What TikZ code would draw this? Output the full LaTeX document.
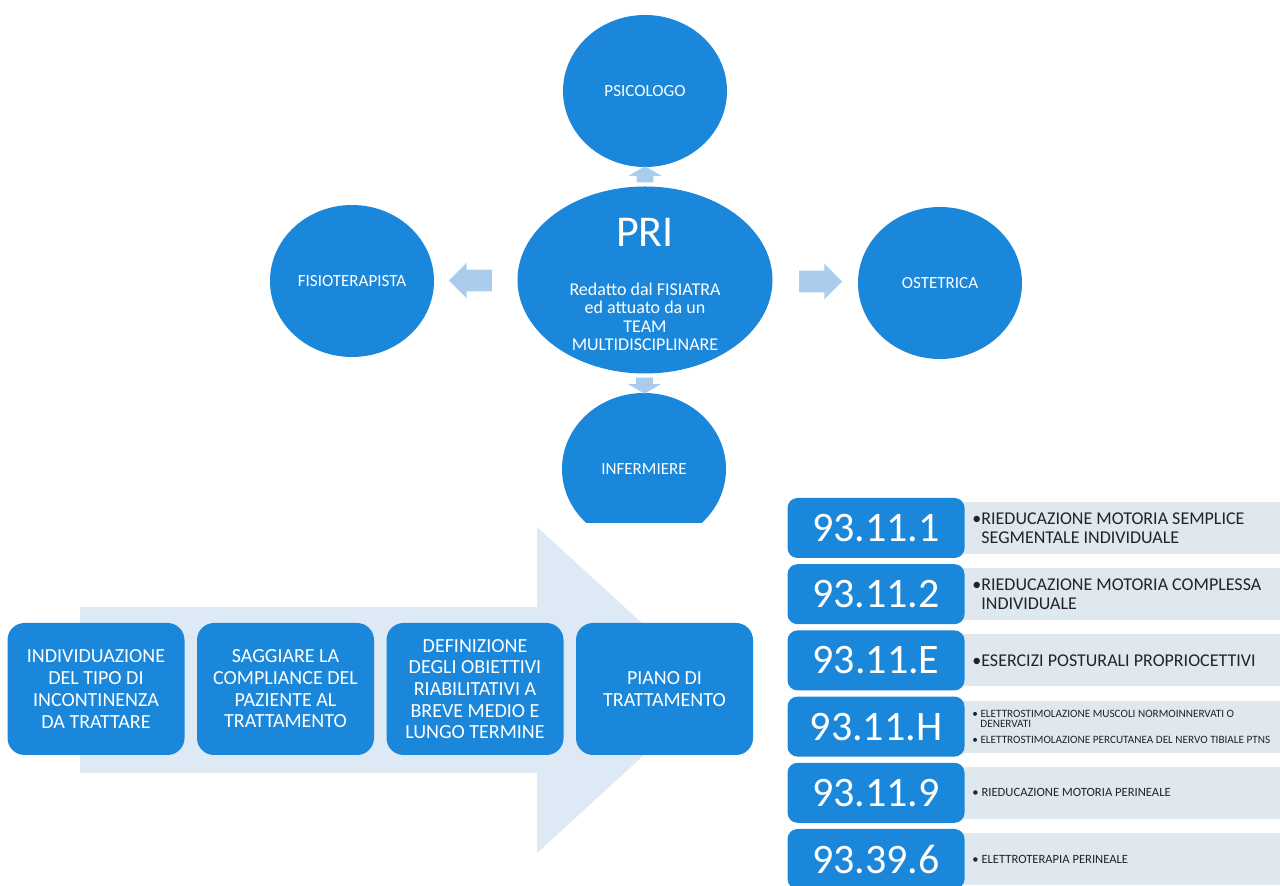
\documentclass[tikz,border=0pt]{standalone}
\usepackage{fontspec}
\setmainfont{Carlito}
\usetikzlibrary{shapes.geometric}
\usetikzlibrary{shapes.arrows}
\usetikzlibrary{calc}
\definecolor{mblue}{RGB}{26,135,219}
\definecolor{mpale}{RGB}{221,234,246}
\definecolor{marrow}{RGB}{170,205,238}
\definecolor{mrow}{RGB}{223,231,239}
\definecolor{mtext}{RGB}{35,35,40}
\newcommand{\rowbig}{\fontsize{9}{9.5}\selectfont}
\newcommand{\rowsmall}{\fontsize{6.3}{6.5}\selectfont}
\newcommand{\rowtiny}{\fontsize{5.6}{5}\selectfont}
\tikzset{circ/.style = {ellipse, fill=mblue, text=white, inner sep=0pt,
                        minimum width=82pt, minimum height=76pt,
                        font=\fontsize{8.5}{10}\selectfont},
         hblock/.style = {single arrow, fill=marrow, inner xsep=0pt, inner ysep=5.25pt,
                          minimum height=21.5pt, minimum width=17.5pt,
                          single arrow head extend=3.5pt},
         vblock/.style = {single arrow, fill=marrow, inner xsep=0pt, inner ysep=4pt,
                          minimum height=8pt, minimum width=16pt,
                          single arrow head extend=4pt, single arrow tip angle=120},
         fase/.style = {rectangle, rounded corners=8.5pt, fill=mblue, text=white,
                        minimum width=88.5pt, minimum height=66pt,
                        align=center, inner sep=0pt,
                        font=\fontsize{10}{10.85}\selectfont},
         codebox/.style = {rectangle, rounded corners=5pt, fill=mblue, text=white,
                           minimum width=88.5pt, minimum height=30pt, inner sep=0pt,
                           font=\fontsize{21}{21}\selectfont},
         descnode/.style = {anchor=west, align=left, text=mtext, inner sep=0pt}}

\begin{document}
\begin{tikzpicture}[x=0.5pt, y=-0.5pt]
    \clip (0, 0) rectangle (1280, 886);
    \fill [white] (0, 0) rectangle (1280, 886);

    % team around the PRI
    \node [ellipse, fill=mblue, inner sep=0pt, minimum width=127.5pt, minimum height=93.5pt] (pri) at (645, 280) {};
    \node [text=white, inner sep=0pt, font=\fontsize{22}{22}\selectfont] (prititle) at (645, 232) {PRI};
    \node [text=white, inner sep=0pt, align=center, font=\fontsize{9}{9.2}\selectfont] (pridesc) at (645, 317)
      {Redatto dal FISIATRA\\ed attuato da un\\TEAM\\MULTIDISCIPLINARE};
    \node [circ] (psico) at (645, 91) {PSICOLOGO};
    \node [circ] (fisio) at (352, 281) {FISIOTERAPISTA};
    \node [circ] (ostet) at (940, 283) {OSTETRICA};
    \begin{scope}
      \clip (0, 0) rectangle (1280, 523);
      \node [circ] (inferm) at (644, 469) {INFERMIERE};
    \end{scope}

    \node [hblock, rotate=180] (toleft) at ($(pri.west)!0.5!(fisio.east)$) {};
    \node [hblock] (toright) at ($(pri.east)!0.5!(ostet.west)$) {};
    \node [vblock, rotate=90] (toup) at ($(pri.north)!0.5!(psico.south)$) {};
    \node [vblock, rotate=-90] (todown) at ($(pri.south)!0.5!(inferm.north)$) {};

    % steps on the big arrow
    \fill [mpale] (80, 607) -- (537, 607) -- (537, 527) -- (715, 690) -- (537, 853) -- (537, 773) -- (80, 773) -- cycle;
    \foreach \txt [count=\i from 0] in {{INDIVIDUAZIONE\\DEL TIPO DI\\INCONTINENZA\\DA TRATTARE},
                                        {SAGGIARE LA\\COMPLIANCE DEL\\PAZIENTE AL\\TRATTAMENTO},
                                        {DEFINIZIONE\\DEGLI OBIETTIVI\\RIABILITATIVI A\\BREVE MEDIO E\\LUNGO TERMINE},
                                        {PIANO DI\\TRATTAMENTO}} {
      \node [fase] (fase\i) at ({96 + 189.5*\i}, 689) {\txt};
    }

    % codes
    \foreach \code/\fnt/\desc [count=\i from 0] in {
        93.11.1/\rowbig/{•RIEDUCAZIONE MOTORIA SEMPLICE\\\hspace*{4.5pt}SEGMENTALE INDIVIDUALE},
        93.11.2/\rowbig/{•RIEDUCAZIONE MOTORIA COMPLESSA\\\hspace*{4.5pt}INDIVIDUALE},
        93.11.E/\rowbig/{•ESERCIZI POSTURALI PROPRIOCETTIVI},
        93.11.H/\rowtiny/{• ELETTROSTIMOLAZIONE MUSCOLI NORMOINNERVATI O\\\hspace*{4pt}DENERVATI\\[3pt]• ELETTROSTIMOLAZIONE PERCUTANEA DEL NERVO TIBIALE PTNS},
        93.11.9/\rowsmall/{• RIEDUCAZIONE MOTORIA PERINEALE},
        93.39.6/\rowsmall/{• ELETTROTERAPIA PERINEALE}} {
      \fill [mrow] (958, {528 + 66.2*\i - 26}) rectangle (1290, {528 + 66.2*\i + 26});
      \node [codebox] (code\i) at (876, {528 + 66.2*\i}) {\code};
      \node [descnode, font=\fnt] (desc\i) at (972, {528 + 66.2*\i}) {\desc};
    }
\end{tikzpicture}
\end{document}
